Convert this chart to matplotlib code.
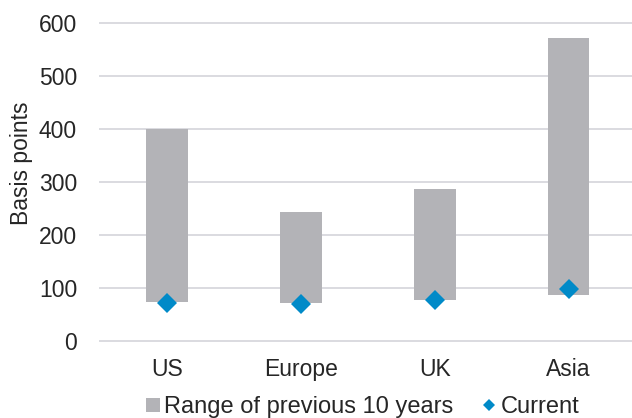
import numpy as np
import matplotlib.pyplot as plt
from matplotlib.lines import Line2D

plt.rcParams['font.family'] = ['Liberation Sans', 'DejaVu Sans']

regions = ['US', 'Europe', 'UK', 'Asia']
range_low = [73, 72, 77, 87]
range_high = [400, 242, 287, 571]
current = [72, 70, 76, 97]

bar_color = '#B3B3B7'
dot_color = '#008AC8'
text_color = '#262626'
fs = 16.5

fig = plt.figure(figsize=(6.32, 4.18), dpi=100)
ax = fig.add_axes([0.1582, 0.185, 0.8418, 0.7608])

x = np.arange(len(regions))
low = np.array(range_low)
high = np.array(range_high)
ax.bar(x, high - low, bottom=low, width=0.311, color=bar_color, zorder=2)
ax.plot(x, current, linestyle='none', marker='D', markersize=10.2,
        color=dot_color, markeredgewidth=0, zorder=3)

ax.set_ylim(0, 600)
ax.set_xlim(-0.5, 3.473)
ax.set_yticks(range(0, 601, 100))
ax.set_xticks(x)
ax.set_xticklabels(regions)
ax.grid(axis='y', color='#DADBE0', linewidth=1.4, zorder=0)
for gl in ax.get_ygridlines():
    gl.set_clip_on(False)
for s in ax.spines.values():
    s.set_visible(False)
ax.tick_params(axis='both', length=0, labelsize=fs, colors=text_color)
ax.tick_params(axis='y', pad=16.5)
ax.tick_params(axis='x', pad=12.5)
ax.set_ylabel('Basis points', fontsize=fs, color=text_color)
ax.yaxis.set_label_coords(-0.126, 0.559)

handles = [
    Line2D([], [], linestyle='none', marker='s', markersize=9.6,
           color=bar_color, markeredgewidth=0),
    Line2D([], [], linestyle='none', marker='D', markersize=6.6,
           color=dot_color, markeredgewidth=0),
]
fig.legend(handles, ['Range of previous 10 years', 'Current'], ncol=2,
           loc='center left', bbox_to_anchor=(0.231, 0.026), frameon=False,
           borderpad=0, borderaxespad=0, fontsize=17, handlelength=0.56,
           handletextpad=0.2, columnspacing=1.25, labelcolor=text_color)

fig.savefig('out.png', dpi=100)
